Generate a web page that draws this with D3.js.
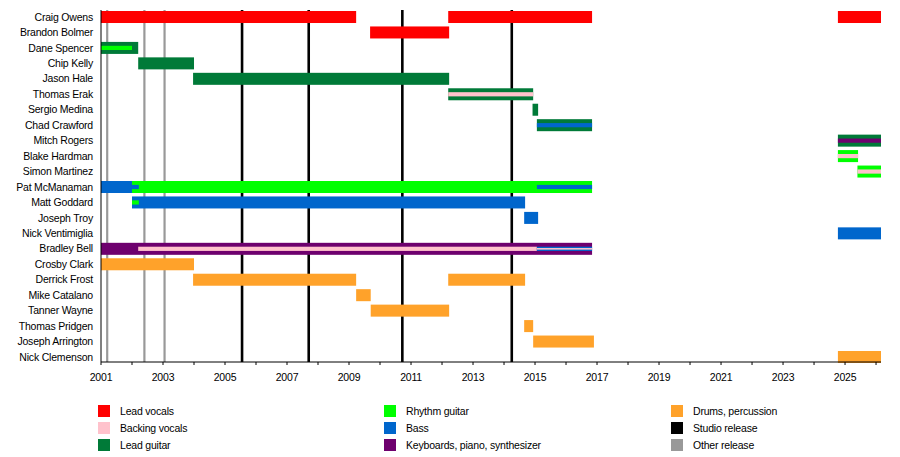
<!DOCTYPE html>
<html>
<head>
<meta charset="utf-8">
<script src="https://cdn.jsdelivr.net/npm/d3@7"></script>
<style>
  body { margin: 0; background: #fff; }
  text { font-family: "Liberation Sans", Arial, sans-serif; font-size: 10.5px; letter-spacing: -0.2px; fill: #000; }
</style>
</head>
<body>
<svg id="chart" width="900" height="457"></svg>
<script>
// members, top to bottom
const members = [
  "Craig Owens", "Brandon Bolmer", "Dane Spencer", "Chip Kelly", "Jason Hale",
  "Thomas Erak", "Sergio Medina", "Chad Crawford", "Mitch Rogers", "Blake Hardman",
  "Simon Martinez", "Pat McManaman", "Matt Goddard", "Joseph Troy", "Nick Ventimiglia",
  "Bradley Bell", "Crosby Clark", "Derrick Frost", "Mike Catalano", "Tanner Wayne",
  "Thomas Pridgen", "Joseph Arrington", "Nick Clemenson"
];

const roles = ["vocals", "backing", "lead", "rhythm", "bass", "keys", "drums", "studio", "other"];
const roleLabels = [
  "Lead vocals", "Backing vocals", "Lead guitar",
  "Rhythm guitar", "Bass", "Keyboards, piano, synthesizer",
  "Drums, percussion", "Studio release", "Other release"
];

const chartStart = 2001;
const chartEnd = 2026.16;

// [member, role, start, end]
const bars = [
  ["Craig Owens", "vocals", 2001, 2009.23],
  ["Craig Owens", "vocals", 2012.2, 2016.84],
  ["Craig Owens", "vocals", 2024.77, chartEnd],
  ["Brandon Bolmer", "vocals", 2009.68, 2012.23],
  ["Dane Spencer", "lead", 2001, 2002.2],
  ["Chip Kelly", "lead", 2002.2, 2004.0],
  ["Jason Hale", "lead", 2003.97, 2012.23],
  ["Thomas Erak", "lead", 2012.2, 2014.94],
  ["Sergio Medina", "lead", 2014.92, 2015.1],
  ["Chad Crawford", "lead", 2015.06, 2016.84],
  ["Mitch Rogers", "lead", 2024.77, chartEnd],
  ["Blake Hardman", "rhythm", 2024.77, 2025.42],
  ["Simon Martinez", "rhythm", 2025.4, chartEnd],
  ["Pat McManaman", "bass", 2001, 2002.0],
  ["Pat McManaman", "rhythm", 2002.0, 2016.84],
  ["Matt Goddard", "bass", 2002.0, 2014.68],
  ["Joseph Troy", "bass", 2014.65, 2015.1],
  ["Nick Ventimiglia", "bass", 2024.77, chartEnd],
  ["Bradley Bell", "keys", 2001, 2016.84],
  ["Crosby Clark", "drums", 2001, 2004.0],
  ["Derrick Frost", "drums", 2003.97, 2009.23],
  ["Derrick Frost", "drums", 2012.2, 2014.68],
  ["Mike Catalano", "drums", 2009.23, 2009.7],
  ["Tanner Wayne", "drums", 2009.7, 2012.23],
  ["Thomas Pridgen", "drums", 2014.65, 2014.94],
  ["Joseph Arrington", "drums", 2014.94, 2016.9],
  ["Nick Clemenson", "drums", 2024.77, chartEnd]
];

// secondary roles, drawn as a stripe through the bar
const stripes = [
  ["Dane Spencer", "rhythm", 2001, 2002.0],
  ["Thomas Erak", "backing", 2012.2, 2014.94],
  ["Chad Crawford", "bass", 2015.06, 2016.84],
  ["Mitch Rogers", "keys", 2024.77, chartEnd],
  ["Blake Hardman", "backing", 2024.77, 2025.42],
  ["Simon Martinez", "backing", 2025.4, chartEnd],
  ["Pat McManaman", "bass", 2002.0, 2002.22],
  ["Pat McManaman", "bass", 2015.06, 2016.84],
  ["Matt Goddard", "rhythm", 2002.0, 2002.22],
  ["Bradley Bell", "backing", 2002.2, 2015.06],
  ["Bradley Bell", "bass", 2015.06, 2016.84]
];
const innerStripes = [
  ["Bradley Bell", "backing", 2015.06, 2016.84]
];

const studioReleases = [2005.55, 2007.7, 2010.72, 2014.25];
const otherReleases = [2001.2, 2002.4, 2003.05];

const tickYears = d3.range(2001, 2027);
const labelYears = d3.range(2001, 2026, 2);

const colors = {
  vocals: "#ff0000", backing: "#ffc2cc", lead: "#007a38", rhythm: "#00ff00",
  bass: "#0066cc", keys: "#6e006e", drums: "#ffa22a", studio: "#000000", other: "#999999"
};

const margin = { left: 101, top: 10 };
const plotW = 780, plotH = 352;
const svg = d3.select("#chart");
const g = svg.append("g").attr("transform", "translate(" + margin.left + "," + margin.top + ")");

const x = d3.scaleLinear().domain([chartStart, chartEnd]).range([0, plotW]);
const y = d3.scaleBand().domain(members).range([1, plotH + 1]).paddingInner(0.223).paddingOuter(0);
const rowMid = (name) => y(name) + y.bandwidth() / 2;

// release lines (behind bars)
g.selectAll("line.other")
  .data(otherReleases)
  .enter().append("line")
  .attr("x1", (d) => x(d)).attr("x2", (d) => x(d))
  .attr("y1", 0).attr("y2", plotH)
  .attr("stroke", colors.other)
  .attr("stroke-width", 2.2);

g.selectAll("line.studio")
  .data(studioReleases)
  .enter().append("line")
  .attr("x1", (d) => x(d)).attr("x2", (d) => x(d))
  .attr("y1", 0).attr("y2", plotH)
  .attr("stroke", colors.studio)
  .attr("stroke-width", 2.6);

// main bars
g.selectAll("rect.bar")
  .data(bars)
  .enter().append("rect")
  .attr("x", (d) => x(d[2]))
  .attr("width", (d) => x(d[3]) - x(d[2]))
  .attr("y", (d) => y(d[0]))
  .attr("height", y.bandwidth())
  .attr("fill", (d) => colors[d[1]]);

// stripes
const stripeH = 4.2;
g.selectAll("rect.stripe")
  .data(stripes)
  .enter().append("rect")
  .attr("x", (d) => x(d[2]))
  .attr("width", (d) => x(d[3]) - x(d[2]))
  .attr("y", (d) => rowMid(d[0]) - stripeH / 2)
  .attr("height", stripeH)
  .attr("fill", (d) => colors[d[1]]);

const innerH = 1.6;
g.selectAll("rect.inner")
  .data(innerStripes)
  .enter().append("rect")
  .attr("x", (d) => x(d[2]))
  .attr("width", (d) => x(d[3]) - x(d[2]))
  .attr("y", (d) => rowMid(d[0]) - innerH / 2)
  .attr("height", innerH)
  .attr("fill", (d) => colors[d[1]]);

// member names
g.selectAll("text.name")
  .data(members)
  .enter().append("text")
  .attr("x", -8)
  .attr("y", (d) => rowMid(d))
  .attr("dy", "0.35em")
  .style("text-anchor", "end")
  .text((d) => d);

// axes
g.append("line")
  .attr("x1", 0).attr("x2", 0)
  .attr("y1", 0).attr("y2", plotH)
  .attr("stroke", "#000").attr("stroke-width", 1);

g.append("line")
  .attr("x1", 0).attr("x2", plotW)
  .attr("y1", plotH).attr("y2", plotH)
  .attr("stroke", "#000").attr("stroke-width", 1);

g.selectAll("line.tick")
  .data(tickYears)
  .enter().append("line")
  .attr("x1", (d) => x(d)).attr("x2", (d) => x(d))
  .attr("y1", plotH).attr("y2", plotH + 3)
  .attr("stroke", "#000").attr("stroke-width", 1);

g.selectAll("text.year")
  .data(labelYears)
  .enter().append("text")
  .attr("x", (d) => x(d))
  .attr("y", plotH + 19)
  .style("text-anchor", "middle")
  .text((d) => d);

// legend
const legendCols = [98, 384, 671];
const legendRows = [405, 422, 439];
const legend = svg.append("g")
  .selectAll("g")
  .data(roles)
  .enter().append("g")
  .attr("transform", (d, i) => "translate(" + legendCols[Math.floor(i / 3)] + "," + legendRows[i % 3] + ")");

legend.append("rect")
  .attr("width", 12).attr("height", 12)
  .attr("fill", (d) => colors[d]);

legend.append("text")
  .attr("x", 22)
  .attr("y", 6)
  .attr("dy", "0.35em")
  .text((d, i) => roleLabels[i]);
</script>
</body>
</html>
